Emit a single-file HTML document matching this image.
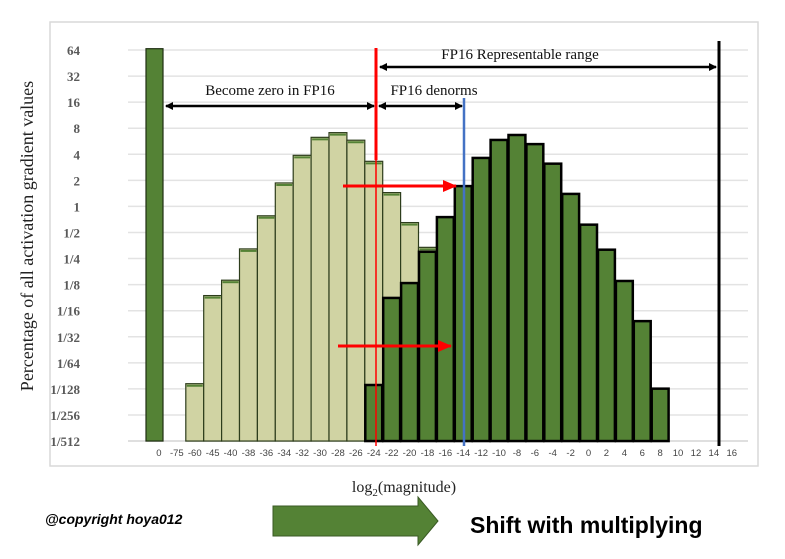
<!DOCTYPE html>
<html><head><meta charset="utf-8"><style>
body{margin:0;background:#fff;width:785px;height:559px;overflow:hidden}
svg{display:block}
</style></head><body>
<svg id="c" width="785" height="559" xmlns="http://www.w3.org/2000/svg">
<rect x="50" y="22" width="708" height="444" fill="#fff" stroke="#d9d9d9" stroke-width="1.5"/>
<g id="grid"></g>
<g id="ylabels"></g>
<g id="bars"></g>
<g id="xlabels"></g>
<text x="33" y="236" transform="rotate(-90 33 236)" text-anchor="middle" font-family="Liberation Serif, serif" font-size="18" fill="#222">Percentage of all activation gradient values</text>
<text x="404" y="492" text-anchor="middle" font-family="Liberation Serif, serif" font-size="16" fill="#222">log<tspan font-size="11" dy="4">2</tspan><tspan dy="-4">(magnitude)</tspan></text>
<defs>
<marker id="ah" markerWidth="8" markerHeight="8" refX="7" refY="4" orient="auto-start-reverse" markerUnits="userSpaceOnUse"><path d="M0,0 L8,4 L0,8 z" fill="#000"/></marker>
<marker id="rh" markerWidth="14" markerHeight="12" refX="13" refY="6" orient="auto" markerUnits="userSpaceOnUse"><path d="M0,0 L14,6 L0,12 z" fill="#f00"/></marker>
</defs>
<line x1="376" y1="48" x2="376" y2="160" stroke="#f00" stroke-width="3"/>
<line x1="376" y1="160" x2="376" y2="446" stroke="#f00" stroke-width="1.5"/>
<line x1="464" y1="98" x2="464" y2="446" stroke="#4472c4" stroke-width="2.5"/>
<line x1="719" y1="41" x2="719" y2="446" stroke="#000" stroke-width="3"/>
<line x1="380" y1="67" x2="716" y2="67" stroke="#000" stroke-width="2.5" marker-start="url(#ah)" marker-end="url(#ah)"/>
<text x="520" y="59" text-anchor="middle" font-family="Liberation Serif, serif" font-size="15" fill="#111">FP16 Representable range</text>
<line x1="379" y1="106" x2="462" y2="106" stroke="#000" stroke-width="2.5" marker-start="url(#ah)" marker-end="url(#ah)"/>
<text x="434" y="95" text-anchor="middle" font-family="Liberation Serif, serif" font-size="15" fill="#111">FP16 denorms</text>
<line x1="166" y1="106" x2="374" y2="106" stroke="#000" stroke-width="2.5" marker-start="url(#ah)" marker-end="url(#ah)"/>
<text x="270" y="95" text-anchor="middle" font-family="Liberation Serif, serif" font-size="15" fill="#111">Become zero in FP16</text>
<line x1="343" y1="186" x2="456" y2="186" stroke="#f00" stroke-width="3" marker-end="url(#rh)"/>
<line x1="338" y1="346" x2="451" y2="346" stroke="#f00" stroke-width="3" marker-end="url(#rh)"/>
<text x="45" y="524" font-family="Liberation Sans, sans-serif" font-size="14" font-weight="bold" font-style="italic" fill="#000">@copyright hoya012</text>
<path d="M273,506 L418,506 L418,497 L438,521 L418,545 L418,536 L273,536 z" fill="#548235" stroke="#3a5a24" stroke-width="1"/>
<text x="470" y="533" font-family="Liberation Sans, sans-serif" font-size="23" font-weight="bold" fill="#000">Shift with multiplying</text>
</svg>
<script>
const categories=["0","-75","-60","-45","-40","-38","-36","-34","-32","-30","-28","-26","-24","-22","-20","-18","-16","-14","-12","-10","-8","-6","-4","-2","0","2","4","6","8","10","12","14","16"];
const yTickLabels=["64","32","16","8","4","2","1","1/2","1/4","1/8","1/16","1/32","1/64","1/128","1/256","1/512"];
// values as log2(percentage); null = no bar
const zeroBar=[6.05];
const originalLog2=[null,null,-6.8,-3.42,-2.83,-1.63,-0.36,0.9,1.96,2.65,2.83,2.54,1.73,0.53,-0.62,-1.57,-2.6,-3.5,-4.3,null,null,null,null,null,null,null,null,null,null,null,null,null,null];
const shiftedLog2=[null,null,null,null,null,null,null,null,null,null,null,null,-6.85,-3.51,-2.94,-1.74,-0.41,0.78,1.86,2.55,2.74,2.39,1.64,0.48,-0.70,-1.66,-2.86,-4.4,-6.99,null,null,null,null];
const NS="http://www.w3.org/2000/svg";
const x0=150,bw=17.9,yTop=50,step=26.07,yMinLog=-9;
function xc(i){return x0+(i+0.5)*bw;}
function y(v){return yTop+(6-v)*step;}
function mk(tag,attrs,parent){const e=document.createElementNS(NS,tag);for(const k in attrs)e.setAttribute(k,attrs[k]);parent.appendChild(e);return e;}
const grid=document.getElementById('grid'),yl=document.getElementById('ylabels'),bars=document.getElementById('bars'),xl=document.getElementById('xlabels');
yTickLabels.forEach((t,k)=>{const yy=y(6-k);
 const g=mk('line',{x1:128,x2:748,y1:yy,y2:yy,stroke:'#e3e3e3','stroke-width':1.5},grid);
 
 
 const tx=mk('text',{x:80,y:yy+5,'text-anchor':'end','font-family':'Liberation Serif, serif','font-size':13,'font-weight':'bold',fill:'#595959'},yl);
 tx.textContent=t;
 
 
});
const base=y(yMinLog);
// zero bar
{const r=mk('rect',{x:146,y:y(zeroBar[0]),width:17,height:base-y(zeroBar[0]),fill:'#548235',stroke:'#1e2e12','stroke-width':1.2},bars);
 
 }
originalLog2.forEach((v,i)=>{if(v===null)return;
 const r=mk('rect',{x:xc(i)-bw/2,y:y(v),width:bw,height:base-y(v),fill:'#d0d3a3',stroke:'#2d3d1c','stroke-width':1.2},bars);
 
 
 const tp=mk('line',{x1:xc(i)-bw/2+1,x2:xc(i)+bw/2-1,y1:y(v)+2,y2:y(v)+2,stroke:'#548235','stroke-width':2},bars);
 
 
});
shiftedLog2.forEach((v,i)=>{if(v===null)return;
 const r=mk('rect',{x:xc(i)-bw/2+0.5,y:y(v),width:bw-1,height:base-y(v),fill:'#548235',stroke:'#000','stroke-width':2.5},bars);
 
 
});
mk('line',{x1:128,x2:748,y1:base,y2:base,stroke:'#d9d9d9','stroke-width':1.5},grid);
categories.forEach((c,i)=>{
 const tx=mk('text',{x:xc(i),y:456,'text-anchor':'middle','font-family':'Liberation Sans, sans-serif','font-size':9.5,fill:'#444'},xl);
 tx.textContent=c;
 
 
});
</script>
</body></html>
